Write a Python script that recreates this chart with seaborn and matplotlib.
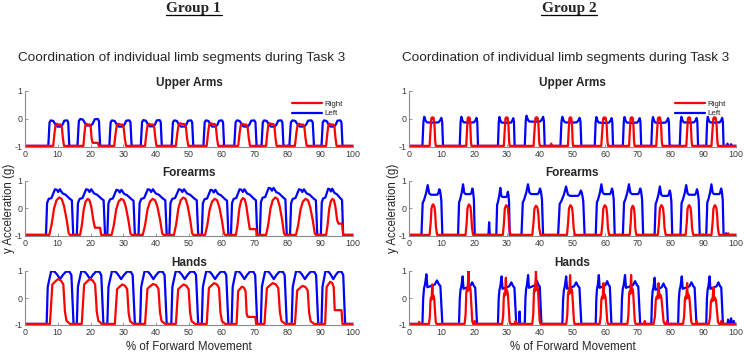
import numpy as np
import pandas as pd
import matplotlib
matplotlib.use("Agg")
import matplotlib.pyplot as plt
import seaborn as sns
from matplotlib.lines import Line2D

# ===================== data =====================
BASE = -0.96   # resting level of the accelerometer traces

# ---- Group 1 : Upper Arms ----
g1_upper_left_on = [7.1, 16.0, 25.7, 35.3, 44.7, 54.4, 63.8, 72.1, 80.6, 90.4]
g1_upper_left_off = [13.5, 22.9, 32.5, 41.7, 51.3, 60.7, 70.6, 78.8, 88.1, 96.8]
g1_upper_left_peak = [-0.05, 0.0, -0.05, -0.04, -0.05, -0.05, -0.05, -0.05, -0.05, -0.05]
g1_upper_left_shape_f = [0, 0.06, 0.12, 0.24, 0.34, 0.42, 0.6, 0.68, 0.76, 0.9, 0.95, 1]
g1_upper_left_shape_y = [BASE, -0.12, -0.05, -0.07, -0.2, -0.27, -0.27, -0.2, -0.06, -0.05, -0.12, BASE]

g1_upper_right_on = [8.6, 17.8, 27.2, 36.6, 46.0, 55.4, 65.0, 73.5, 82.3, 91.8]
g1_upper_right_off = [11.9, 20.6, 30.8, 40.1, 49.8, 58.9, 68.6, 76.7, 85.9, 95.0]
g1_upper_right_peak = [-0.17, -0.17, -0.17, -0.17, -0.15, -0.15, -0.17, -0.15, -0.17, -0.17]
g1_upper_right_shape_f = [0, 0.12, 0.22, 0.35, 0.5, 0.7, 0.8, 0.9, 1]
g1_upper_right_shape_y = [BASE, -0.5, -0.22, -0.17, -0.2, -0.2, -0.3, -0.7, BASE]
g1_upper_right_tail_len = [0, 1.6, 0, 0, 0, 0, 0, 0, 0, 0]
g1_upper_right_tail_y = [BASE, -0.85, BASE, BASE, BASE, BASE, BASE, BASE, BASE, BASE]

# ---- Group 1 : Forearms ----
g1_fore_left_on = [6.4, 15.8, 25.1, 34.6, 44.0, 53.9, 62.8, 71.6, 80.8, 90.2]
g1_fore_left_off = [14.7, 24.4, 33.5, 43.2, 52.8, 62.0, 70.8, 79.8, 89.1, 97.0]
g1_fore_left_peak = [0.7, 0.7, 0.68, 0.7, 0.7, 0.68, 0.7, 0.75, 0.7, 0.72]
g1_fore_left_shape_f = [0, 0.04, 0.1, 0.2, 0.27, 0.33, 0.4, 0.45, 0.51, 0.61, 0.72, 0.88, 0.95, 1]
g1_fore_left_shape_y = [BASE, 0.2, 0.35, 0.38, 0.55, 0.7, 0.68, 0.6, 0.7, 0.55, 0.5, 0.35, 0.3, BASE]

g1_fore_right_on = [7.4, 16.8, 26.4, 35.9, 45.4, 54.9, 64.3, 73.5, 82.6, 91.8]
g1_fore_right_off = [13.7, 21.6, 32.5, 42.2, 51.3, 61.0, 68.8, 79.3, 88.7, 95.8]
g1_fore_right_peak = [0.4, 0.35, 0.35, 0.35, 0.4, 0.35, 0.38, 0.4, 0.35, 0.35]
g1_fore_right_shape_f = [0, 0.11, 0.23, 0.35, 0.48, 0.6, 0.71, 0.84, 0.94, 1]
g1_fore_right_shape_y = [BASE, -0.6, 0.0, 0.3, 0.4, 0.35, 0.1, -0.4, -0.9, BASE]
g1_fore_right_tail_len = [0, 1.3, 0, 0, 0, 0, 1.6, 0, 0, 0.9]
g1_fore_right_tail_y = [BASE, -0.7, BASE, BASE, BASE, BASE, -0.75, BASE, BASE, -0.55]

# ---- Group 1 : Hands ----
g1_hand_left_on = [6.6, 15.8, 25.1, 35.1, 44.6, 53.9, 63.0, 71.9, 81.3, 90.4]
g1_hand_left_off = [14.8, 23.9, 33.5, 43.2, 52.8, 62.0, 70.8, 79.8, 89.4, 97.6]
g1_hand_left_peak = [1.0, 1.0, 1.0, 1.0, 1.0, 1.0, 1.0, 1.0, 1.0, 1.0]
g1_hand_left_shape_f = [0, 0.04, 0.08, 0.17, 0.3, 0.38, 0.5, 0.6, 0.72, 0.85, 0.92, 1]
g1_hand_left_shape_y = [BASE, 0.4, 0.6, 1.0, 0.97, 0.88, 0.7, 0.85, 0.98, 0.97, 0.85, BASE]

g1_hand_right_on = [7.6, 17.3, 27.4, 36.6, 46.0, 55.4, 64.5, 73.0, 82.3, 91.5]
g1_hand_right_off = [13.7, 23.4, 33.0, 42.7, 51.8, 61.0, 68.6, 79.3, 88.1, 95.4]
g1_hand_right_peak = [0.7, 0.7, 0.5, 0.52, 0.5, 0.55, 0.42, 0.55, 0.45, 0.6]
g1_hand_right_shape_f = [0, 0.12, 0.25, 0.4, 0.55, 0.67, 0.75, 0.83, 0.92, 1]
g1_hand_right_shape_y = [BASE, 0.5, 0.6, 0.7, 0.65, 0.5, -0.5, -0.85, -0.9, BASE]
g1_hand_right_tail_len = [0, 0, 0, 0, 0, 0, 1.6, 0, 0, 1.1]
g1_hand_right_tail_y = [BASE, BASE, BASE, BASE, BASE, BASE, -0.7, BASE, BASE, -0.45]

# ---- Group 2 : Upper Arms ----
g2_upper_left_on = [4.1, 15.5, 27.2, 35.4, 46.3, 56.8, 65.4, 74.1, 82.8, 90.9]
g2_upper_left_off = [10.4, 21.1, 32.3, 41.5, 52.7, 62.4, 71.0, 79.7, 88.4, 96.2]
g2_upper_left_peak = [0.08, 0.08, 0.07, 0.12, 0.08, 0.07, 0.07, 0.07, 0.08, 0.08]
g2_upper_left_shape_f = [0, 0.05, 0.09, 0.15, 0.22, 0.5, 0.78, 0.86, 0.92, 0.96, 1]
g2_upper_left_shape_y = [BASE, -0.1, 0.08, -0.05, -0.12, -0.13, -0.12, -0.05, 0.04, -0.1, BASE]
g2_upper_left_blip_x = [97.4, 98.5]
g2_upper_left_blip_y = [-0.88, -0.9]

g2_upper_right_on = [6.3, 17.5, 29.0, 38.1, 48.6, 58.8, 67.3, 75.6, 84.8, 92.5]
g2_upper_right_off = [8.2, 19.1, 30.8, 40.0, 50.2, 60.9, 69.0, 77.5, 86.6, 94.5]
g2_upper_right_peak = [0.06, 0.06, 0.06, 0.06, 0.06, 0.06, 0.06, 0.06, 0.06, 0.06]
g2_upper_right_shape_f = [0, 0.15, 0.28, 0.42, 0.52, 0.62, 0.78, 0.9, 1]
g2_upper_right_shape_y = [BASE, -0.4, 0.02, 0.06, 0.0, 0.05, -0.2, -0.8, BASE]
g2_upper_right_blip_x = [43.5]
g2_upper_right_blip_y = [-0.88]

# ---- Group 2 : Forearms ----
g2_fore_left_on = [3.8, 15.0, 26.7, 34.4, 45.6, 57.1, 65.4, 75.1, 83.0, 90.9]
g2_fore_left_off = [10.2, 20.1, 30.8, 41.0, 53.7, 62.9, 71.6, 80.5, 88.9, 96.2]
g2_fore_left_peak = [0.85, 0.88, 0.75, 0.88, 0.8, 0.88, 0.88, 0.8, 0.85, 0.88]
g2_fore_left_shape_f = [0, 0.06, 0.12, 0.22, 0.3, 0.37, 0.45, 0.75, 0.8, 0.86, 0.9, 0.95, 1]
g2_fore_left_shape_y = [BASE, 0.2, 0.3, 0.55, 0.85, 0.55, 0.5, 0.5, 0.55, 0.7, 0.6, 0.3, BASE]
g2_fore_left_blip_x = [24.5, 97.0]
g2_fore_left_blip_y = [-0.5, -0.9]

g2_fore_right_on = [6.3, 17.3, 28.7, 37.7, 48.3, 58.8, 67.5, 76.1, 84.6, 92.5]
g2_fore_right_off = [8.6, 19.6, 31.0, 40.2, 50.7, 61.2, 69.5, 78.5, 86.9, 94.8]
g2_fore_right_peak = [0.15, 0.15, 0.12, 0.1, 0.12, 0.12, 0.1, 0.12, 0.12, 0.12]
g2_fore_right_shape_f = [0, 0.15, 0.25, 0.35, 0.45, 0.55, 0.65, 0.75, 0.85, 1]
g2_fore_right_shape_y = [BASE, -0.5, 0.0, 0.1, 0.15, 0.12, 0.05, -0.2, -0.7, BASE]
g2_fore_right_blip_x = [97.6]
g2_fore_right_blip_y = [-0.9]

# ---- Group 2 : Hands ----
g2_hand_left_on = [4.1, 15.3, 27.2, 35.4, 46.9, 57.1, 64.9, 74.1, 82.3, 90.9]
g2_hand_left_off = [10.2, 20.8, 32.8, 40.5, 52.7, 61.9, 70.7, 79.2, 87.9, 96.0]
g2_hand_left_peak = [0.88, 0.8, 0.8, 0.85, 0.8, 0.85, 0.85, 0.75, 0.8, 0.8]
g2_hand_left_shape_f = [0, 0.04, 0.08, 0.13, 0.2, 0.25, 0.45, 0.62, 0.73, 0.83, 0.9, 1]
g2_hand_left_shape_y = [BASE, 0.0, 0.35, 0.5, 0.88, 0.4, 0.45, 0.5, 0.65, 0.5, 0.45, BASE]
g2_hand_left_blip_x = [33.8, 97.6, 98.5, 99.3]
g2_hand_left_blip_y = [-0.5, -0.8, -0.75, -0.85]

g2_hand_right_on = [6.1, 17.0, 28.5, 37.7, 48.1, 58.3, 66.8, 74.8, 83.8, 91.7]
g2_hand_right_off = [8.4, 19.6, 31.0, 40.2, 50.7, 60.9, 69.3, 78.2, 86.6, 94.8]
g2_hand_right_peak = [0.5, 1.0, 0.75, 1.0, 0.85, 0.55, 0.85, 0.55, 0.55, 0.4]
g2_hand_right_shape_f = [0, 0.12, 0.2, 0.28, 0.35, 0.45, 0.52, 0.6, 0.7, 0.8, 0.9, 1]
g2_hand_right_shape_y = [BASE, -0.6, 0.2, 0.35, 0.25, 1.0, 0.3, 0.45, 0.3, -0.3, -0.85, BASE]
g2_hand_right_blip_x = [3.1, 20.1, 32.6, 72.1, 78.9, 87.9, 95.5]
g2_hand_right_blip_y = [-0.88, -0.85, -0.85, -0.85, -0.85, -0.85, -0.85]

panel_titles = ["Upper Arms", "Forearms", "Hands"]
group_titles = ["Group 1", "Group 2"]
subtitle = "Coordination of individual limb segments during Task 3"
x_ticks = [0, 10, 20, 30, 40, 50, 60, 70, 80, 90, 100]
y_ticks = [-1, 0, 1]


# ===================== trace builder =====================
def trace(on, off, peak, shape_f, shape_y, tail_len=None, tail_y=None,
          blip_x=(), blip_y=()):
    """join the read-off pulses into one polyline"""
    top = max(shape_y)
    segs = []
    for i, (a, b, p) in enumerate(zip(on, off, peak)):
        k = (p - BASE) / (top - BASE)
        xs = [a + f * (b - a) for f in shape_f]
        ys = [BASE + (v - BASE) * k for v in shape_y]
        if tail_len is not None and tail_len[i] > 0:
            ys = [max(y, tail_y[i]) if f > 0.5 else y for f, y in zip(shape_f, ys)]
            xs += [b + tail_len[i], b + tail_len[i] + 0.3]
            ys += [tail_y[i], BASE]
        segs.append((xs, ys))
    for bx, by in zip(blip_x, blip_y):
        segs.append(([bx - 0.2, bx, bx + 0.2], [BASE, by, BASE]))
    segs.sort(key=lambda s: s[0][0])
    X, Y = [0.0], [BASE]
    for xs, ys in segs:
        X += xs
        Y += ys
    X.append(100.0)
    Y.append(BASE)
    return X, Y


groups = [
    [
        (trace(g1_upper_left_on, g1_upper_left_off, g1_upper_left_peak,
               g1_upper_left_shape_f, g1_upper_left_shape_y),
         trace(g1_upper_right_on, g1_upper_right_off, g1_upper_right_peak,
               g1_upper_right_shape_f, g1_upper_right_shape_y,
               g1_upper_right_tail_len, g1_upper_right_tail_y)),
        (trace(g1_fore_left_on, g1_fore_left_off, g1_fore_left_peak,
               g1_fore_left_shape_f, g1_fore_left_shape_y),
         trace(g1_fore_right_on, g1_fore_right_off, g1_fore_right_peak,
               g1_fore_right_shape_f, g1_fore_right_shape_y,
               g1_fore_right_tail_len, g1_fore_right_tail_y)),
        (trace(g1_hand_left_on, g1_hand_left_off, g1_hand_left_peak,
               g1_hand_left_shape_f, g1_hand_left_shape_y),
         trace(g1_hand_right_on, g1_hand_right_off, g1_hand_right_peak,
               g1_hand_right_shape_f, g1_hand_right_shape_y,
               g1_hand_right_tail_len, g1_hand_right_tail_y)),
    ],
    [
        (trace(g2_upper_left_on, g2_upper_left_off, g2_upper_left_peak,
               g2_upper_left_shape_f, g2_upper_left_shape_y,
               blip_x=g2_upper_left_blip_x, blip_y=g2_upper_left_blip_y),
         trace(g2_upper_right_on, g2_upper_right_off, g2_upper_right_peak,
               g2_upper_right_shape_f, g2_upper_right_shape_y,
               blip_x=g2_upper_right_blip_x, blip_y=g2_upper_right_blip_y)),
        (trace(g2_fore_left_on, g2_fore_left_off, g2_fore_left_peak,
               g2_fore_left_shape_f, g2_fore_left_shape_y,
               blip_x=g2_fore_left_blip_x, blip_y=g2_fore_left_blip_y),
         trace(g2_fore_right_on, g2_fore_right_off, g2_fore_right_peak,
               g2_fore_right_shape_f, g2_fore_right_shape_y,
               blip_x=g2_fore_right_blip_x, blip_y=g2_fore_right_blip_y)),
        (trace(g2_hand_left_on, g2_hand_left_off, g2_hand_left_peak,
               g2_hand_left_shape_f, g2_hand_left_shape_y,
               blip_x=g2_hand_left_blip_x, blip_y=g2_hand_left_blip_y),
         trace(g2_hand_right_on, g2_hand_right_off, g2_hand_right_peak,
               g2_hand_right_shape_f, g2_hand_right_shape_y,
               blip_x=g2_hand_right_blip_x, blip_y=g2_hand_right_blip_y)),
    ],
]

# ===================== plotting =====================
sns.set_theme(style="white")
plt.rcParams["font.family"] = ["Liberation Sans", "DejaVu Sans"]
plt.rcParams["axes.unicode_minus"] = False

W, H = 746, 354
fig = plt.figure(figsize=(W / 100, H / 100), dpi=100)

col_px = [(25, 353), (409, 736)]              # x extent of each group's axes
row_px = [(91, 147), (181, 236), (271, 325)]  # y extent of each panel
head_px = [193.5, 569]                        # centre of the "Group n" headings
palette = {"Left": "#0000ff", "Right": "#ff0000"}
spine_c = "#8a8a8a"
tick_c = "#3c3c3c"

for g, (x0, x1) in enumerate(col_px):
    cx = (x0 + x1) / 2 / W
    hx = head_px[g] / W
    fig.text(hx, 1 - 12 / H, group_titles[g], ha="center", va="baseline",
             fontsize=11, fontweight="bold", family=["Liberation Serif"])
    fig.add_artist(Line2D([hx - 28 / W, hx + 28 / W], [1 - 14.5 / H] * 2,
                          transform=fig.transFigure, color="black", lw=0.9))
    fig.text(cx - 7 / W, 1 - 61 / H, subtitle, ha="center", va="baseline", fontsize=9.7)
    fig.text((x0 - 16) / W, 1 - 208 / H, "y Acceleration (g)", rotation=90,
             ha="center", va="center", fontsize=8.3)

    for r, (y0, y1) in enumerate(row_px):
        ax = fig.add_axes([x0 / W, 1 - y1 / H, (x1 - x0) / W, (y1 - y0) / H])
        (lx, ly), (rx, ry) = groups[g][r]
        df = pd.concat([
            pd.DataFrame({"x": lx, "y": ly, "side": "Left"}),
            pd.DataFrame({"x": rx, "y": ry, "side": "Right"}),
        ], ignore_index=True)
        sns.lineplot(data=df, x="x", y="y", hue="side", hue_order=["Left", "Right"],
                     palette=palette, sort=False, estimator=None, lw=1.6,
                     legend=False, ax=ax)
        ax.set_xlim(0, 100)
        ax.set_ylim(-1, 1)
        ax.set_xticks(x_ticks)
        ax.set_yticks(y_ticks)
        ax.set_xlabel("")
        ax.set_ylabel("")
        sns.despine(ax=ax)
        for s in ["left", "bottom"]:
            ax.spines[s].set_color(spine_c)
            ax.spines[s].set_linewidth(0.8)
        ax.tick_params(direction="in", length=2, width=0.6, color=spine_c,
                       labelsize=6.4, labelcolor=tick_c, pad=2,
                       left=True, bottom=True)
        ax.set_title(panel_titles[r], fontsize=8.5, fontweight="bold", pad=3.5)

        if r == 0:
            handles = [Line2D([], [], color=palette["Right"], lw=1.6),
                       Line2D([], [], color=palette["Left"], lw=1.6)]
            ax.legend(handles, ["Right", "Left"], loc="upper right",
                      bbox_to_anchor=(0.97, 0.84), frameon=False, fontsize=5.7,
                      handlelength=3.8, handletextpad=0.3, labelspacing=0.3,
                      borderpad=0, borderaxespad=0)
        if r == 2:
            ax.set_xlabel("% of Forward Movement", fontsize=8.3, labelpad=3)

fig.savefig("out.png", dpi=100)
